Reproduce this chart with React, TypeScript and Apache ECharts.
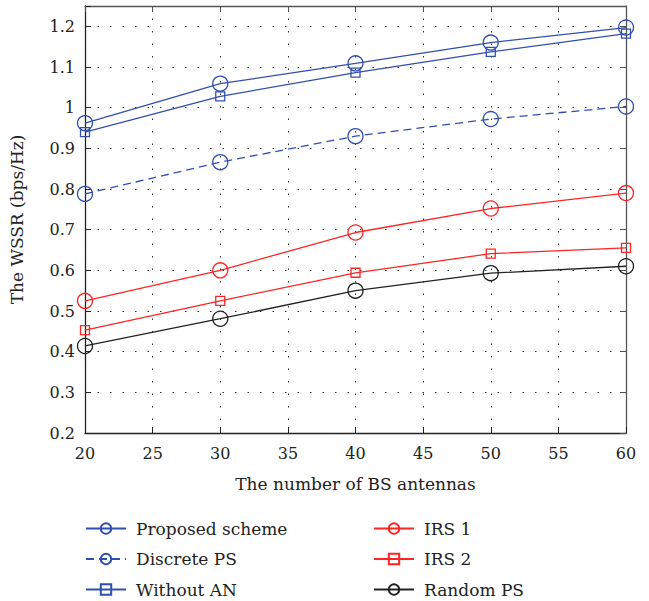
import React, { useEffect, useRef } from "react";
import * as echarts from "echarts";

const antennas = [20, 30, 40, 50, 60];
const proposed = [0.962, 1.059, 1.109, 1.160, 1.197];
const discrete = [0.788, 0.866, 0.930, 0.972, 1.003];
const withoutAN = [0.940, 1.028, 1.086, 1.137, 1.182];
const irs1 = [0.525, 0.600, 0.693, 0.752, 0.790];
const irs2 = [0.453, 0.525, 0.594, 0.641, 0.655];
const randomPS = [0.414, 0.481, 0.550, 0.593, 0.610];

const BLUE = "#3050b0";
const RED = "#ff2424";
const BLACK = "#222222";
const FONT = "DejaVu Serif";

function mk(name: string, data: number[], color: string, symbol: string, size: number, dashed = false) {
  return {
    name,
    type: "line",
    data: data.map((v, i) => [antennas[i], v]),
    symbol,
    symbolSize: size,
    showAllSymbol: true,
    lineStyle: { color, width: 1.3, type: dashed ? [8, 5] : "solid" },
    itemStyle: { color: "rgba(255,255,255,0)", borderColor: color, borderWidth: 1.3 },
    emphasis: { disabled: true },
    z: 5,
  };
}

export default function App() {
  const ref = useRef<HTMLDivElement>(null);
  useEffect(() => {
    const chart = echarts.init(ref.current!, undefined, { renderer: "svg" });
    const gridLine = { show: true, lineStyle: { color: "#333", type: [1.5, 11], width: 1 } };
    const legendText = { fontFamily: FONT, fontSize: 17, color: "#222", padding: [0, 0, 0, 5] };
    chart.setOption({
      animation: false,
      backgroundColor: "#fff",
      grid: { left: 83, top: 6, right: 23, bottom: 168, containLabel: false },
      xAxis: [
        {
          type: "value", min: 20, max: 60, interval: 5,
          name: "The number of BS antennas", nameLocation: "middle", nameGap: 42,
          nameTextStyle: { fontFamily: FONT, fontSize: 17, color: "#222" },
          axisLine: { onZero: false, lineStyle: { color: "#222", width: 1.3 } },
          axisTick: { inside: true, length: 6, lineStyle: { color: "#222" } },
          axisLabel: { fontFamily: FONT, fontSize: 16, color: "#222", margin: 12 },
          splitLine: gridLine,
        },
        {
          type: "value", min: 20, max: 60, interval: 5, position: "top",
          axisLine: { onZero: false, lineStyle: { color: "#555", width: 1.3 } },
          axisTick: { inside: true, length: 6, lineStyle: { color: "#555" } },
          axisLabel: { show: false }, splitLine: { show: false },
        },
      ],
      yAxis: [
        {
          type: "value", min: 0.2, max: 1.25, interval: 0.1,
          name: "The WSSR (bps/Hz)", nameLocation: "middle", nameGap: 60,
          nameTextStyle: { fontFamily: FONT, fontSize: 17, color: "#222" },
          axisLine: { show: true, onZero: false, lineStyle: { color: "#222", width: 1.3 } },
          axisTick: { show: true, inside: true, length: 6, lineStyle: { color: "#222" } },
          axisLabel: {
            fontFamily: FONT, fontSize: 16, color: "#222", margin: 10,
            formatter: (v: number) => (Math.abs(v - 1.25) < 1e-6 ? "" : String(Math.round(v * 10) / 10)),
          },
          splitLine: gridLine,
        },
        {
          type: "value", min: 0.2, max: 1.25, interval: 0.1, position: "right",
          axisLine: { show: true, onZero: false, lineStyle: { color: "#555", width: 1.3 } },
          axisTick: { show: true, inside: true, length: 6, lineStyle: { color: "#555" } },
          axisLabel: { show: false }, splitLine: { show: false },
        },
      ],
      legend: [
        {
          data: ["Proposed scheme", "Discrete PS", "Without AN"],
          orient: "vertical", left: 80, top: 515, height: 90, itemWidth: 40, itemHeight: 13, itemGap: 13.5,
          textStyle: legendText,
        },
        {
          data: ["IRS 1", "IRS 2", "Random PS"],
          orient: "vertical", left: 368, top: 515, height: 90, itemWidth: 40, itemHeight: 13, itemGap: 13.5,
          textStyle: legendText,
        },
      ],
      series: [
        mk("Proposed scheme", proposed, BLUE, "circle", 15),
        mk("Discrete PS", discrete, BLUE, "circle", 15, true),
        mk("Without AN", withoutAN, BLUE, "rect", 9),
        mk("IRS 1", irs1, RED, "circle", 15),
        mk("IRS 2", irs2, RED, "rect", 9),
        mk("Random PS", randomPS, BLACK, "circle", 15),
      ],
    });
    return () => chart.dispose();
  }, []);
  return <div ref={ref} style={{ width: 649, height: 601, position: "absolute", left: 0, top: 0 }} />;
}
